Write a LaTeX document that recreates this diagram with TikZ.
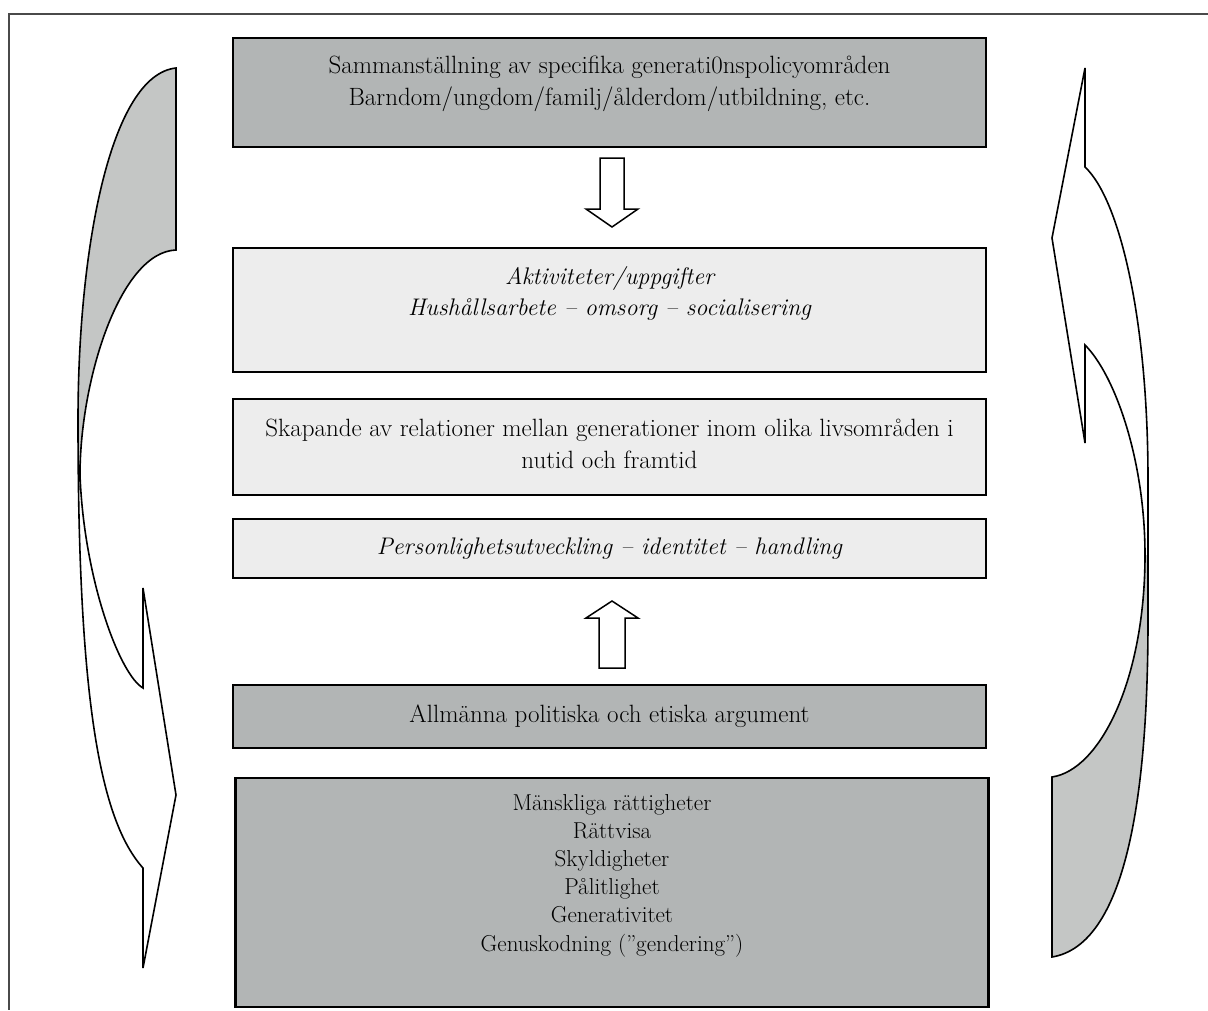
\documentclass[tikz,border=0pt]{standalone}
\usepackage{fontspec}
\definecolor{boxdark}{HTML}{B2B5B5}
\definecolor{boxlight}{HTML}{EDEDED}
\definecolor{bandgray}{HTML}{C4C6C5}
\definecolor{framegray}{HTML}{4A4A4A}
\begin{document}
\begin{tikzpicture}[x=1pt,y=-1pt,
    darkbox/.style={draw, line width=2.4pt, fill=boxdark, minimum width=753pt, inner sep=0pt},
    lightbox/.style={draw, line width=2.4pt, fill=boxlight, minimum width=753pt, inner sep=0pt},
    txt/.style={align=center, inner sep=0pt, font=\fontsize{25}{32}\selectfont},
    ittxt/.style={align=center, inner sep=0pt, font=\fontsize{24}{31}\selectfont\itshape},
    smalltxt/.style={align=center, inner sep=0pt, font=\fontsize{23}{28.2}\selectfont},
    blockarrow/.style={draw, line width=1.5pt, fill=white, line join=miter},
    band/.style={draw, line width=1.6pt, line join=miter}]
  \useasboundingbox (0,0) rectangle (1208,1010);
  \draw[framegray, line width=1.2pt] (1208,14) -- (9,14) -- (9,1010);

  \node[darkbox, minimum height=109pt] (sam) at (609.5,92.5) {};
  \node[lightbox, minimum height=124pt] (akt) at (609.5,310) {};
  \node[lightbox, minimum height=96pt] (rel) at (609.5,447) {};
  \node[lightbox, minimum height=59pt] (pers) at (609.5,548.5) {};
  \node[darkbox, minimum height=63pt] (arg) at (609.5,716.5) {};
  \node[darkbox, minimum height=229pt] (ratt) at (612,892.5) {};

  \node[txt] (samtext) at (609.5,84) {Sammanställning av specifika generati0nspolicyområden\\Barndom/ungdom/familj/ålderdom/utbildning, etc.};
  \node[ittxt] (akttext) at (609.5,293.5) {Aktiviteter/uppgifter\\Hushållsarbete – omsorg – socialisering};
  \node[txt] (reltext) at (609.5,444) {Skapande av relationer mellan generationer inom olika livsområden i\\nutid och framtid};
  \node[ittxt] (perstext) at (pers.center) {Personlighetsutveckling – identitet – handling};
  \node[txt] (argtext) at (arg.center) {Allmänna politiska och etiska argument};
  \node[smalltxt] (ratttext) at (612,875.5) {Mänskliga rättigheter\\Rättvisa\\Skyldigheter\\Pålitlighet\\Generativitet\\Genuskodning (”gendering”)};

  \draw[blockarrow] (600,158) -- (624,158) -- (624,209) -- (638,209) -- (612,227)
    -- (586,209) -- (600,209) -- cycle;
  \draw[blockarrow] (599,668) -- (625,668) -- (625,618) -- (638,618) -- (612,601)
    -- (586,618) -- (599,618) -- cycle;

  \fill[bandgray] (176,68) .. controls (110,75) and (78,250) .. (78,420) -- (78,470)
    -- (80,475) .. controls (80,380) and (120,252) .. (176,250) -- cycle;
  \draw[band] (176,68) .. controls (110,75) and (78,250) .. (78,420)
    .. controls (78,700) and (100,820) .. (143,868) -- (143,968) -- (176,795)
    -- (143,588) -- (143,688) .. controls (120,675) and (84,580) .. (80,475)
    .. controls (80,380) and (120,252) .. (176,250) -- cycle;

  \fill[bandgray] (1052,777) -- (1052,957) .. controls (1125,945) and (1148,800) .. (1148,620)
    -- (1148,555) -- (1145,555) .. controls (1145,680) and (1100,770) .. (1052,777) -- cycle;
  \draw[band] (1085,68) -- (1085,167) .. controls (1120,200) and (1148,320) .. (1148,480)
    -- (1148,620) .. controls (1148,800) and (1125,945) .. (1052,957) -- (1052,777)
    .. controls (1100,770) and (1145,680) .. (1145,555)
    .. controls (1145,460) and (1115,375) .. (1085,345) -- (1085,443) -- (1052,238) -- cycle;
\end{tikzpicture}
\end{document}
